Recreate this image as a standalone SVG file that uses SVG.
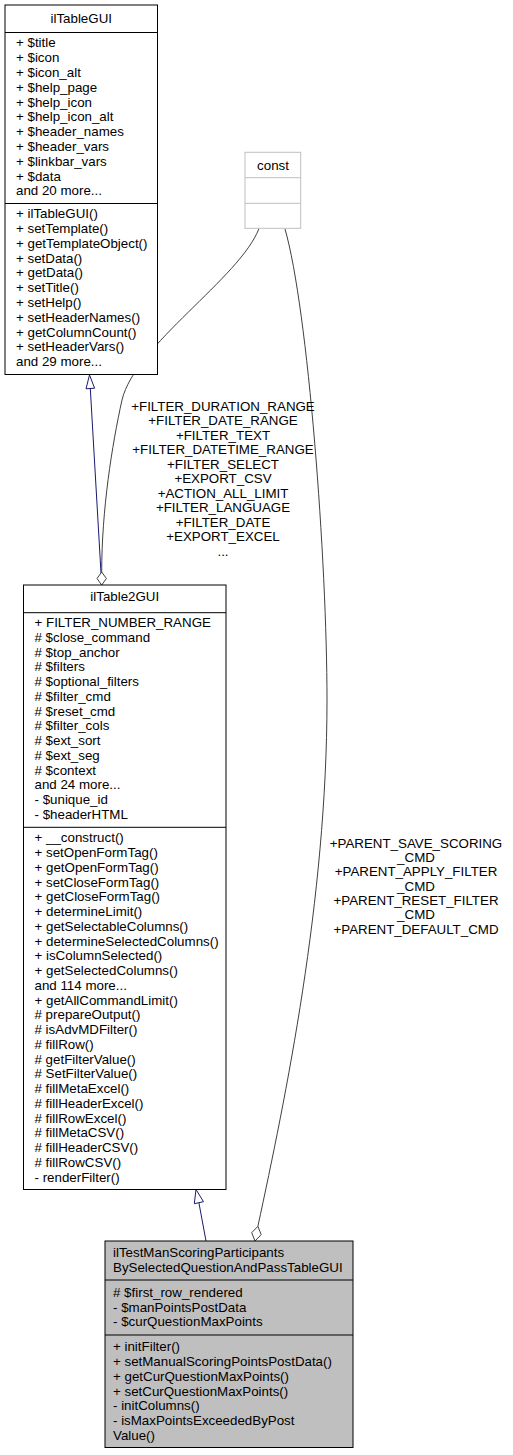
<svg xmlns="http://www.w3.org/2000/svg" width="513" height="1455" viewBox="0 0 513 1455">
<style>
text{font-family:"Liberation Sans",Arial,Helvetica,sans-serif;font-size:13.33px;fill:#000}
.c{text-anchor:middle}
.box{fill:#fff;stroke:#000;stroke-width:1}
.cur{fill:#bfbfbf;stroke:#000;stroke-width:1}
.gbox{fill:#fff;stroke:#bfbfbf;stroke-width:1}
.sep{stroke:#000;stroke-width:1}
.gsep{stroke:#bfbfbf;stroke-width:1}
.inh{fill:none;stroke:#191970;stroke-width:1}
.inhhead{fill:#fff;stroke:#191970;stroke-width:1}
.agg{fill:none;stroke:#404040;stroke-width:1}
.agghead{fill:#fff;stroke:#404040;stroke-width:1}
</style>
<rect width="513" height="1455" fill="#fff"/>
<g id="connectors">
  <path class="inh" d="M90.3,388.5 L101.7,585"/>
  <polygon class="inhhead" points="89.5,375 94.6,388.2 86,388.8"/>
  <path class="inh" d="M198.9,1202.7 L206,1241"/>
  <polygon class="inhhead" points="196,1189.5 203.5,1201.7 194.3,1203.7"/>
  <path class="agg" d="M259,228.5 C240,278 135,345 122,400 C112,445 101.7,510 101.7,572"/>
  <polygon class="agghead" points="101.7,572 106.4,578.5 101.7,585 97,578.5"/>
  <path class="agg" d="M285,229 C308,309 327,560 327,700 C327,900 285,1100 257.9,1226.3"/>
  <polygon class="agghead" points="257.9,1226.3 261.2,1234.6 255,1241 251.7,1232.7"/>
  <g id="label-const-table2" class="c">
    <text x="223" y="410.5">+FILTER_DURATION_RANGE</text>
    <text x="223" y="425.05">+FILTER_DATE_RANGE</text>
    <text x="223" y="439.6">+FILTER_TEXT</text>
    <text x="223" y="454.15">+FILTER_DATETIME_RANGE</text>
    <text x="223" y="468.7">+FILTER_SELECT</text>
    <text x="223" y="483.25">+EXPORT_CSV</text>
    <text x="223" y="497.8">+ACTION_ALL_LIMIT</text>
    <text x="223" y="512.35">+FILTER_LANGUAGE</text>
    <text x="223" y="526.9">+FILTER_DATE</text>
    <text x="223" y="541.45">+EXPORT_EXCEL</text>
    <text x="223" y="556">...</text>
  </g>
  <g id="label-const-scoring" class="c">
    <text x="416" y="847.8">+PARENT_SAVE_SCORING</text>
    <text x="416" y="862.1">_CMD</text>
    <text x="416" y="876.4">+PARENT_APPLY_FILTER</text>
    <text x="416" y="890.7">_CMD</text>
    <text x="416" y="905">+PARENT_RESET_FILTER</text>
    <text x="416" y="919.3">_CMD</text>
    <text x="416" y="933.6">+PARENT_DEFAULT_CMD</text>
  </g>
</g>
<g id="ilTableGUI">
  <rect class="box" x="5" y="5" width="152.5" height="369.5"/>
  <line class="sep" x1="5" y1="32.5" x2="157.5" y2="32.5"/>
  <line class="sep" x1="5" y1="203.5" x2="157.5" y2="203.5"/>
  <text class="c" x="81.25" y="23">ilTableGUI</text>
  <text x="16" y="47.4">+ $title</text>
  <text x="16" y="62.2">+ $icon</text>
  <text x="16" y="77">+ $icon_alt</text>
  <text x="16" y="91.8">+ $help_page</text>
  <text x="16" y="106.6">+ $help_icon</text>
  <text x="16" y="121.4">+ $help_icon_alt</text>
  <text x="16" y="136.2">+ $header_names</text>
  <text x="16" y="151">+ $header_vars</text>
  <text x="16" y="165.8">+ $linkbar_vars</text>
  <text x="16" y="180.6">+ $data</text>
  <text x="16" y="195.4">and 20 more...</text>
  <text x="16" y="218.2">+ ilTableGUI()</text>
  <text x="16" y="233">+ setTemplate()</text>
  <text x="16" y="247.8">+ getTemplateObject()</text>
  <text x="16" y="262.6">+ setData()</text>
  <text x="16" y="277.4">+ getData()</text>
  <text x="16" y="292.2">+ setTitle()</text>
  <text x="16" y="307">+ setHelp()</text>
  <text x="16" y="321.8">+ setHeaderNames()</text>
  <text x="16" y="336.6">+ getColumnCount()</text>
  <text x="16" y="351.4">+ setHeaderVars()</text>
  <text x="16" y="366.2">and 29 more...</text>
</g>
<g id="const">
  <rect class="gbox" x="245" y="152.3" width="55.7" height="76"/>
  <line class="gsep" x1="245" y1="177.7" x2="300.7" y2="177.7"/>
  <line class="gsep" x1="245" y1="203.3" x2="300.7" y2="203.3"/>
  <text class="c" x="273" y="169.5">const</text>
</g>
<g id="ilTable2GUI">
  <rect class="box" x="23.5" y="585" width="202.5" height="604.5"/>
  <line class="sep" x1="23.5" y1="612.7" x2="226" y2="612.7"/>
  <line class="sep" x1="23.5" y1="827.3" x2="226" y2="827.3"/>
  <text class="c" x="124.75" y="601.4">ilTable2GUI</text>
  <text x="34.5" y="627.2">+ FILTER_NUMBER_RANGE</text>
  <text x="34.5" y="641.95"># $close_command</text>
  <text x="34.5" y="656.7"># $top_anchor</text>
  <text x="34.5" y="671.45"># $filters</text>
  <text x="34.5" y="686.2"># $optional_filters</text>
  <text x="34.5" y="700.95"># $filter_cmd</text>
  <text x="34.5" y="715.7"># $reset_cmd</text>
  <text x="34.5" y="730.45"># $filter_cols</text>
  <text x="34.5" y="745.2"># $ext_sort</text>
  <text x="34.5" y="759.95"># $ext_seg</text>
  <text x="34.5" y="774.7"># $context</text>
  <text x="34.5" y="789.45">and 24 more...</text>
  <text x="34.5" y="804.2">- $unique_id</text>
  <text x="34.5" y="818.95">- $headerHTML</text>
  <text x="34.5" y="842.4">+ __construct()</text>
  <text x="34.5" y="857.15">+ setOpenFormTag()</text>
  <text x="34.5" y="871.9">+ getOpenFormTag()</text>
  <text x="34.5" y="886.65">+ setCloseFormTag()</text>
  <text x="34.5" y="901.4">+ getCloseFormTag()</text>
  <text x="34.5" y="916.15">+ determineLimit()</text>
  <text x="34.5" y="930.9">+ getSelectableColumns()</text>
  <text x="34.5" y="945.65">+ determineSelectedColumns()</text>
  <text x="34.5" y="960.4">+ isColumnSelected()</text>
  <text x="34.5" y="975.15">+ getSelectedColumns()</text>
  <text x="34.5" y="989.9">and 114 more...</text>
  <text x="34.5" y="1004.65">+ getAllCommandLimit()</text>
  <text x="34.5" y="1019.4"># prepareOutput()</text>
  <text x="34.5" y="1034.15"># isAdvMDFilter()</text>
  <text x="34.5" y="1048.9"># fillRow()</text>
  <text x="34.5" y="1063.65"># getFilterValue()</text>
  <text x="34.5" y="1078.4"># SetFilterValue()</text>
  <text x="34.5" y="1093.15"># fillMetaExcel()</text>
  <text x="34.5" y="1107.9"># fillHeaderExcel()</text>
  <text x="34.5" y="1122.65"># fillRowExcel()</text>
  <text x="34.5" y="1137.4"># fillMetaCSV()</text>
  <text x="34.5" y="1152.15"># fillHeaderCSV()</text>
  <text x="34.5" y="1166.9"># fillRowCSV()</text>
  <text x="34.5" y="1181.65">- renderFilter()</text>
</g>
<g id="ilTestManScoringParticipantsBySelectedQuestionAndPassTableGUI">
  <rect class="cur" x="105" y="1241" width="248" height="206.5"/>
  <line class="sep" x1="105" y1="1280" x2="353" y2="1280"/>
  <line class="sep" x1="105" y1="1335" x2="353" y2="1335"/>
  <text x="113" y="1257.4">ilTestManScoringParticipants</text>
  <text x="113" y="1272">BySelectedQuestionAndPassTableGUI</text>
  <text x="113" y="1297.2"># $first_row_rendered</text>
  <text x="113" y="1311.8">- $manPointsPostData</text>
  <text x="113" y="1326.4">- $curQuestionMaxPoints</text>
  <text x="113" y="1351.4">+ initFilter()</text>
  <text x="113" y="1366.15">+ setManualScoringPointsPostData()</text>
  <text x="113" y="1380.9">+ getCurQuestionMaxPoints()</text>
  <text x="113" y="1395.65">+ setCurQuestionMaxPoints()</text>
  <text x="113" y="1410.4">- initColumns()</text>
  <text x="113" y="1425.15">- isMaxPointsExceededByPost</text>
  <text x="113" y="1439.9">Value()</text>
</g>
</svg>
